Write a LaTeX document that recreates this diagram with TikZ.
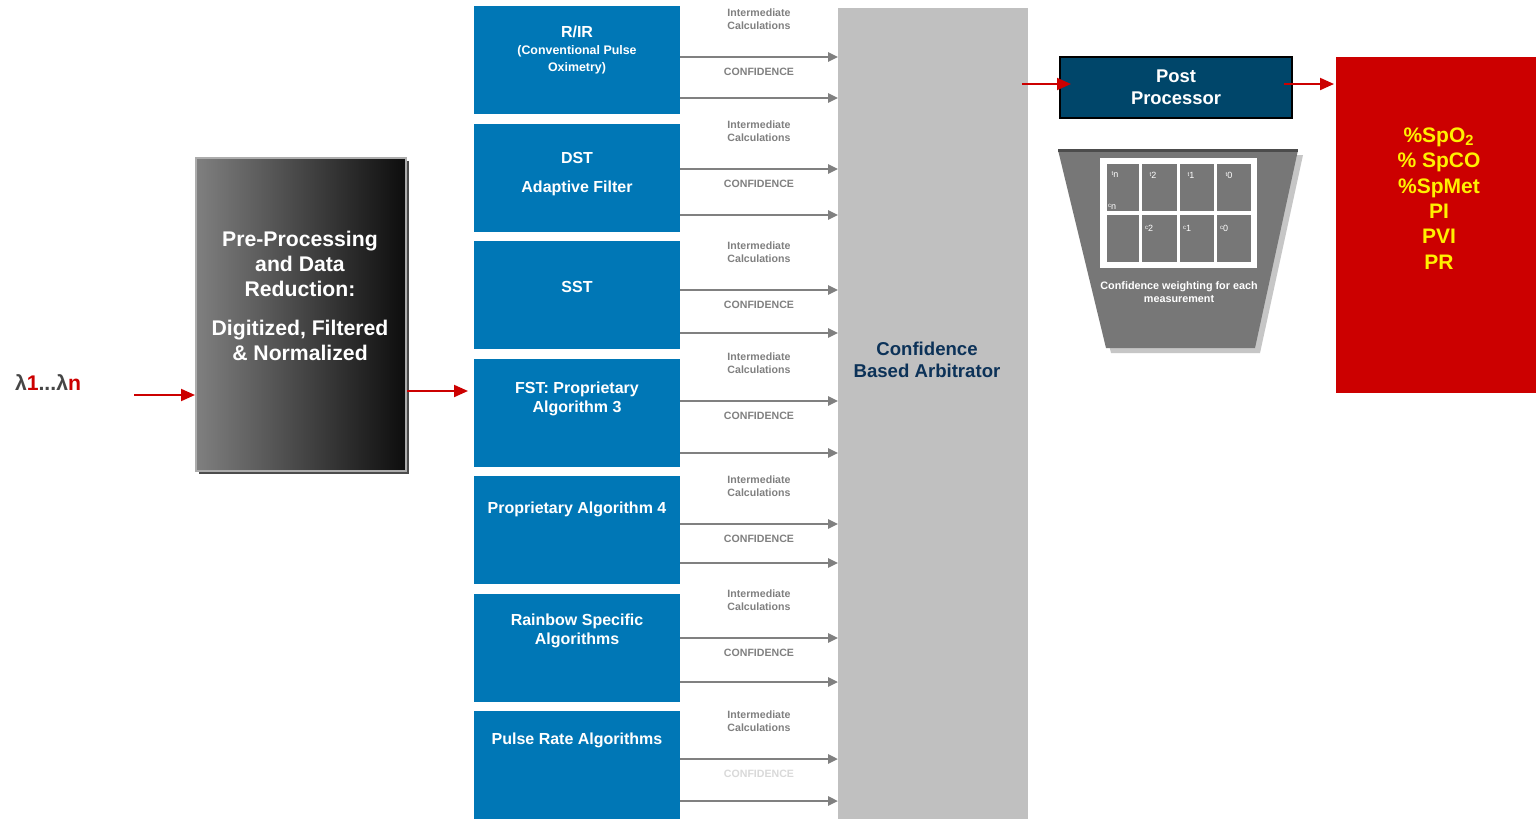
\documentclass[tikz,border=0pt]{standalone}
\usepackage{fontspec}
\setmainfont{Liberation Sans}
\usetikzlibrary{arrows.meta, positioning, calc, shadows}

\definecolor{algblue}{RGB}{0,119,182}
\definecolor{arbgray}{RGB}{192,192,192}
\definecolor{arbtext}{RGB}{12,50,88}
\definecolor{postblue}{RGB}{0,70,106}
\definecolor{outred}{RGB}{204,0,0}
\definecolor{outyellow}{RGB}{255,240,0}
\definecolor{arrgray}{RGB}{128,128,128}
\definecolor{trapgray}{RGB}{119,119,119}
\definecolor{lamgray}{RGB}{70,70,70}

% small cell labels in the weighting table
\newcommand{\wsub}[2]{{\fontsize{3}{3}\selectfont #1}\raisebox{-1pt}{\fontsize{4.5}{5}\selectfont #2}}

\begin{document}
\begin{tikzpicture}[x=0.5pt, y=-0.5pt,
  algbox/.style={fill=algblue, minimum width=103pt, minimum height=54.15pt, inner sep=0pt, outer sep=0pt, anchor=north west},
  algtxt/.style={text=white, font=\bfseries\fontsize{8}{9.5}\selectfont, align=center, inner sep=0pt},
  lbl/.style={font=\bfseries\fontsize{5.3}{6.4}\selectfont, align=center, inner sep=0pt},
  garr/.style={draw=arrgray, line width=1.2pt, -{Triangle[length=5pt, width=4.5pt]}},
  rarr/.style={draw=outred, line width=1pt, -{Triangle[length=7pt, width=6pt]}},
  cell/.style={text=white, inner sep=0pt},
  node distance=4.6pt
]
\useasboundingbox (0,0) rectangle (1536,819);
\fill[white] (0,0) rectangle (1536,819);

% input and pre-processing
\node[font=\bfseries\fontsize{10.6}{12}\selectfont, inner sep=0pt] (lam) at (48,383)
  {\textcolor{lamgray}{λ}\textcolor{outred}{1}\textcolor{lamgray}{...λ}\textcolor{outred}{n}};
\node[draw=gray!65, line width=1pt, left color=black!50, right color=black!95,
  minimum width=105pt, minimum height=156.5pt, anchor=north west,
  drop shadow={shadow xshift=1.5pt, shadow yshift=-1.5pt, fill=black!70, opacity=1}] (pre) at (195,157) {};
\node[text=white, font=\bfseries\fontsize{10.6}{12.5}\selectfont, align=center, inner sep=0pt] (pret) at (300,296)
  {Pre-Processing\\and Data\\Reduction:\\[7pt]Digitized, Filtered\\\& Normalized};

\coordinate (lin) at (134,395);
\draw[rarr] (lin) -- (lin -| pre.west);
\coordinate (lout) at (468,391);
\draw[rarr] (lout -| pre.east) -- (lout);

% algorithm blocks
\node[algbox] (b1) at (474,6) {};
\node[algbox, below=of b1] (b2) {};
\node[algbox, below=of b2] (b3) {};
\node[algbox, below=of b3] (b4) {};
\node[algbox, below=of b4] (b5) {};
\node[algbox, below=of b5] (b6) {};
\node[algbox, below=of b6] (b7) {};

\node[algtxt, below=10pt of b1.north] (t1) {R/IR\\[-1pt]{\fontsize{6.2}{8}\selectfont (Conventional Pulse}\\[-1pt]{\fontsize{6.2}{8}\selectfont Oximetry)}};
\node[algtxt, below=14pt of b2.north] (t2) {DST\\[5pt]Adaptive Filter};
\node[algtxt, below=20pt of b3.north] (t3) {SST};
\node[algtxt, below=11.5pt of b4.north] (t4) {FST: Proprietary\\Algorithm 3};
\node[algtxt, below=12.5pt of b5.north] (t5) {Proprietary Algorithm 4};
\node[algtxt, below=10pt of b6.north] (t6) {Rainbow Specific\\Algorithms};
\node[algtxt, below=10.5pt of b7.north] (t7) {Pulse Rate Algorithms};

% arbitrator
\node[fill=arbgray, minimum width=95pt, minimum height=405.5pt, inner sep=0pt, anchor=north west] (arb) at (838,8) {};
\node[text=arbtext, font=\bfseries\fontsize{9.3}{11}\selectfont, align=center, inner sep=0pt] (arbt) at (927,360)
  {Confidence\\Based Arbitrator};

\foreach \i/\a/\c/\cc in {1/51/92/arrgray, 2/45.5/91.5/arrgray, 3/49/92/arrgray, 4/42.5/94.5/arrgray,
                          5/48/87/arrgray, 6/44.5/88.5/arrgray, 7/48/90/arrgray!30}{
  \coordinate (ia\i) at ($(b\i.north east)+(0,\a)$);
  \coordinate (ca\i) at ($(b\i.north east)+(0,\c)$);
  \draw[garr] (ia\i) -- node[lbl, text=arrgray, above=13pt] (li\i) {Intermediate\\Calculations}
    node[lbl, text=\cc, below=5pt] (lc\i) {CONFIDENCE} (ia\i -| arb.west);
  \draw[garr] (ca\i) -- (ca\i -| arb.west);
}

% post processor and outputs
\node[draw=black, line width=1pt, fill=postblue, text=white, font=\bfseries\fontsize{9.2}{11}\selectfont,
  align=center, minimum width=116pt, minimum height=30.5pt, inner sep=0pt] (post) at (1176,87.5) {Post\\Processor};
\node[fill=outred, minimum width=100pt, minimum height=168pt, inner sep=0pt, anchor=north west] (res) at (1336,57) {};
\node[text=outyellow, font=\bfseries\fontsize{10.5}{12.7}\selectfont, align=center, inner sep=0pt] (outs) at (1439,198.5)
  {\%SpO\textsubscript{2}\\\% SpCO\\\%SpMet\\PI\\PVI\\PR};

\draw[rarr] ($(arb.east |- post.west)+(-7,-3.5)$) -- ($(post.west)+(12,-3.5)$);
\draw[rarr] ($(post.east)+(-9,-3.5)$) -- ($(res.west |- post.east)+(-2,-3.5)$);

% confidence weighting funnel
\fill[gray!45] (1063,155) -- (1303,155) -- (1260,353) -- (1111,353) -- cycle;
\fill[trapgray] (1058,150) -- (1298,150) -- (1255,348) -- (1106,348) -- cycle;
\draw[black!70, line width=1.5pt] (1058,150) -- (1298,150);
\fill[white] (1100,158) rectangle (1257,268);
\foreach \xa/\xb in {1107/1139, 1142/1177, 1180/1214, 1217/1251}
  \foreach \ya/\yb in {164/211, 215/262}
    \fill[trapgray] (\xa,\ya) rectangle (\xb,\yb);

\node[cell] (wtn) at (1115,175) {\wsub{t}{n}};
\node[cell] (wt2) at (1153,175) {\wsub{t}{2}};
\node[cell] (wt1) at (1191,175) {\wsub{t}{1}};
\node[cell] (wt0) at (1229,175) {\wsub{t}{0}};
\node[cell] (wcn) at (1112,207) {\wsub{c}{n}};
\node[cell] (wc2) at (1149,228) {\wsub{c}{2}};
\node[cell] (wc1) at (1187,228) {\wsub{c}{1}};
\node[cell] (wc0) at (1224,228) {\wsub{c}{0}};
\node[text=white, font=\bfseries\fontsize{5.4}{6.5}\selectfont, align=center, inner sep=0pt] (cw) at (1179,292)
  {Confidence weighting for each\\measurement};
\end{tikzpicture}
\end{document}
